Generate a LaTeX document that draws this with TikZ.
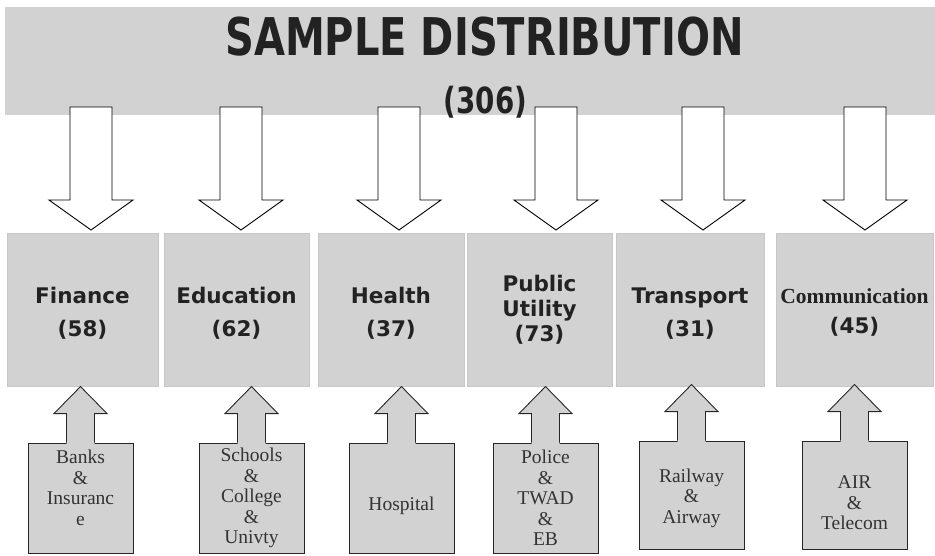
\documentclass[tikz,border=0pt]{standalone}
\usepackage{fontspec}
\setmainfont{Liberation Serif}
\newfontfamily\titlefont[FakeStretch=0.77]{DejaVu Sans}
\newfontfamily\catfont{DejaVu Sans}
\usepackage{tikz}
\usetikzlibrary{calc, positioning}
\definecolor{boxgray}{RGB}{210,210,210}
\definecolor{inkgray}{RGB}{34,34,34}

\begin{document}
\begin{tikzpicture}[
		x=1pt, y=-1pt,
		banner/.style={rectangle, fill=boxgray, inner sep=0pt},
		catbox/.style={rectangle, fill=boxgray, draw=black!22, minimum height=153pt, inner sep=0pt},
		cattext/.style={inner sep=0pt, align=center, text=inkgray, font=\catfont\bfseries\fontsize{21.5}{33}\selectfont},
		srcbox/.style={rectangle, fill=boxgray, draw=black!85, line width=0.9pt, minimum width=105pt, inner sep=0pt},
		srctext/.style={inner sep=0pt, align=center, text=black!80, font=\fontsize{19.5}{20.5}\selectfont},
		downarrow/.pic={
			\draw[fill=white, line width=0.9pt, line join=miter] (-21,0) -- (21,0) -- (21,93) -- (42,93) -- (0,123) -- (-42,93) -- (-21,93) -- cycle;
		},
		uparrow/.pic={
			\fill[boxgray] (-14,1.5) -- (-14,-29) -- (-26.5,-29) -- (0,-56) -- (26.5,-29) -- (14,-29) -- (14,1.5) -- cycle;
			\draw[line width=0.9pt, draw=black!85] (-14,0) -- (-14,-29) -- (-26.5,-29) -- (0,-56) -- (26.5,-29) -- (14,-29) -- (14,0);
		}
		]
	\useasboundingbox (0,0) rectangle (935,555);

	% --- bandeau du haut ---
	\node[banner, minimum width=930pt, minimum height=108pt] (banner) at (470,61) {};
	\node[text=inkgray, font=\titlefont\bfseries\fontsize{52}{52}\selectfont] (title) at (484.5,37) {SAMPLE DISTRIBUTION};
	\node[text=inkgray, font=\titlefont\bfseries\fontsize{36}{36}\selectfont] (total) at (485.5,102) {(306)};

	% --- secteurs ---
	\node[catbox, minimum width=151pt] (fin) at (82.5,309.5) {};
	\node[catbox, minimum width=145pt] (edu) at (236.5,309.5) {};
	\node[catbox, minimum width=146pt] (hlt) at (391,309.5) {};
	\node[catbox, minimum width=145pt] (pub) at (539.5,309.5) {};
	\node[catbox, minimum width=148pt] (trn) at (690,309.5) {};
	\node[catbox, minimum width=157pt] (com) at (854.5,309.5) {};

	\node[cattext] (fin text) at ($(fin)+(0,4)$) {Finance\\(58)};
	\node[cattext] (edu text) at ($(edu)+(0,4)$) {Education\\(62)};
	\node[cattext] (hlt text) at ($(hlt)+(0,4)$) {Health\\(37)};
	\node[cattext, font=\catfont\bfseries\fontsize{21.5}{25}\selectfont] (pub text) at (pub) {Public\\Utility\\(73)};
	\node[cattext] (trn text) at ($(trn)+(0,4)$) {Transport\\(31)};
	\node[cattext] (com text) at ($(com)+(0,3)$) {{\rmfamily\fontsize{21.5}{30}\selectfont Communication}\\[-3pt](45)};

	% --- fleches vers le bas ---
	\pic at (91,107) {downarrow};
	\pic at (241,107) {downarrow};
	\pic at (399,107) {downarrow};
	\pic at (556,107) {downarrow};
	\pic at (703,107) {downarrow};
	\pic at (865,107) {downarrow};

	% --- sources ---
	\node[srcbox, minimum height=110pt] (src1) at (80.5,498) {};
	\node[srcbox, minimum height=110pt] (src2) at (251.5,498) {};
	\node[srcbox, minimum height=110pt] (src3) at (401.5,498) {};
	\node[srcbox, minimum height=110pt] (src4) at (545.5,498) {};
	\node[srcbox, minimum height=108pt] (src5) at (691.5,495) {};
	\node[srcbox, minimum height=108pt] (src6) at (854.5,495) {};

	\node[srctext] (src1 text) at ($(src1)+(0,-10)$) {Banks\\\&\\Insuranc\\e};
	\node[srctext] (src2 text) at (src2) {Schools\\\&\\College\\\&\\Univty};
	\node[srctext] (src3 text) at ($(src3)+(0,8)$) {Hospital};
	\node[srctext] (src4 text) at (src4) {Police\\\&\\TWAD\\\&\\EB};
	\node[srctext] (src5 text) at ($(src5)+(0,3)$) {Railway\\\&\\Airway};
	\node[srctext] (src6 text) at ($(src6)+(0,8)$) {AIR\\\&\\Telecom};

	\pic at (src1.north) {uparrow};
	\pic at (src2.north) {uparrow};
	\pic at (src3.north) {uparrow};
	\pic at (src4.north) {uparrow};
	\pic at (src5.north) {uparrow};
	\pic at (src6.north) {uparrow};

\end{tikzpicture}
\end{document}
